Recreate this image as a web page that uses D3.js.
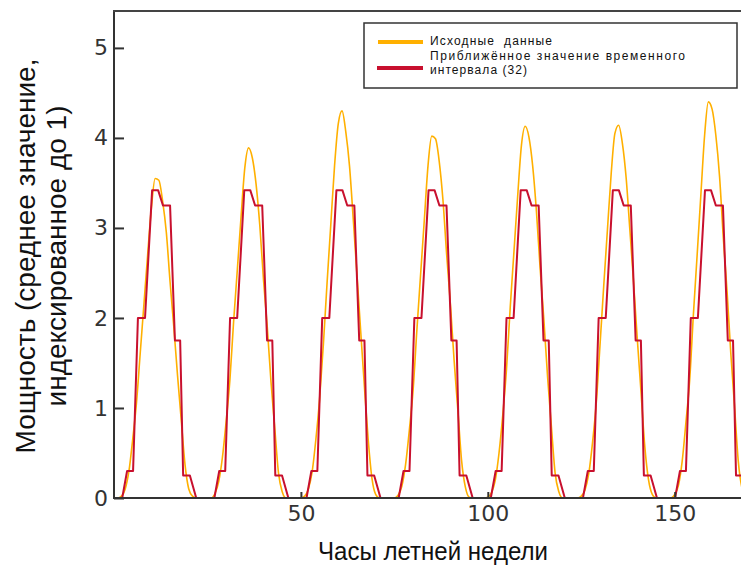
<!DOCTYPE html>
<html><head><meta charset="utf-8">
<script src="https://cdn.jsdelivr.net/npm/d3@7"></script>
<style>body{margin:0;background:#fff;} svg{display:block;}</style>
</head><body><svg id="c" width="741" height="568"></svg>
<script>
// ---- data ----
const hours = d3.range(0, 171);
const original = [
  0,0,0.02,0.1,0.3,0.65,1.05,1.6,2.15,2.7,3.22,3.55,3.53,3.3,2.95,2.4,1.9,1.36,0.86,0.37,0.1,0.02,
  0,0,0,0,0,
  0.05,0.18,0.45,0.85,1.31,1.96,2.54,3.13,3.67,3.89,3.78,3.49,3.03,2.42,1.9,1.29,0.78,0.28,0.07,
  0,0,0,0,0,
  0.02,0.1,0.29,0.65,1.1,1.7,2.39,3.04,3.69,4.16,4.3,4.07,3.69,3.1,2.48,1.85,1.23,0.65,0.22,0.04,
  0,0,0,0,0,
  0.03,0.13,0.37,0.75,1.19,1.85,2.47,3.08,3.69,4.02,3.99,3.74,3.31,2.7,2.15,1.52,0.97,0.41,0.12,0.01,
  0,0,0,0,
  0.01,0.06,0.2,0.5,0.92,1.43,2.12,2.74,3.36,3.92,4.13,4.01,3.69,3.19,2.55,1.98,1.34,0.8,0.28,0.07,
  0,0,0,0,0,
  0.02,0.09,0.27,0.61,1.05,1.69,2.35,2.98,3.6,4.05,4.14,3.94,3.56,2.98,2.39,1.76,1.17,0.57,0.2,0.04,
  0,0,0,0,0,
  0.04,0.14,0.41,0.84,1.31,2.04,2.7,3.37,4.03,4.4,4.32,4.03,3.57,2.89,2.3,1.61,1.02,0.41,0.11,0.01,
  0
];
const approxX = [
  0,2.2,3.5,5.1,6.4,8.3,10.2,11.8,13.1,15.0,16.3,17.7,18.5,20.3,22.0,
  26.85,28.15,29.75,31.05,32.95,34.85,36.45,37.75,39.65,40.95,42.35,43.15,44.95,46.65,
  51.5,52.8,54.4,55.7,57.6,59.5,61.1,62.4,64.3,65.6,67.0,67.8,69.6,71.3,
  76.15,77.45,79.05,80.35,82.25,84.15,85.75,87.05,88.95,90.25,91.65,92.45,94.25,95.95,
  100.8,102.1,103.7,105.0,106.9,108.8,110.4,111.7,113.6,114.9,116.3,117.1,118.9,120.6,
  125.45,126.75,128.35,129.65,131.55,133.45,135.05,136.35,138.25,139.55,140.95,141.75,143.55,145.25,
  150.1,151.4,153.0,154.3,156.2,158.1,159.7,161.0,162.9,164.2,165.6,166.4,168.2,169.9
];
const approxY = [
  0,0,0.3,0.3,2.0,2.0,3.42,3.42,3.25,3.25,1.75,1.75,0.25,0.25,0,
  0,0.3,0.3,2.0,2.0,3.42,3.42,3.25,3.25,1.75,1.75,0.25,0.25,0,
  0,0.3,0.3,2.0,2.0,3.42,3.42,3.25,3.25,1.75,1.75,0.25,0.25,0,
  0,0.3,0.3,2.0,2.0,3.42,3.42,3.25,3.25,1.75,1.75,0.25,0.25,0,
  0,0.3,0.3,2.0,2.0,3.42,3.42,3.25,3.25,1.75,1.75,0.25,0.25,0,
  0,0.3,0.3,2.0,2.0,3.42,3.42,3.25,3.25,1.75,1.75,0.25,0.25,0,
  0,0.3,0.3,2.0,2.0,3.42,3.42,3.25,3.25,1.75,1.75,0.25,0.25,0
];
const xTicks = [50, 100, 150];
const yTicks = [0, 1, 2, 3, 4, 5];
const legendLabels = ["Исходные  данные", "Приближённое значение временного", "интервала (32)"];
const yTitle = ["Мощность (среднее значение,", "индексированное до 1)"];
const xTitle = "Часы летней недели";

// ---- chart ----
const svg = d3.select("#c");
const L = 114, T = 11, B = 498, R = 742;
const x = d3.scaleLinear().domain([0, 168]).range([L, R]);
const y = d3.scaleLinear().domain([0, 5.41]).range([B, T]);

svg.append("defs").append("clipPath").attr("id", "clip")
  .append("rect").attr("x", L).attr("y", T).attr("width", 741 - L).attr("height", B - T);

const plot = svg.append("g").attr("clip-path", "url(#clip)");
plot.append("path")
  .datum(hours.map((h, i) => [h, original[i]]))
  .attr("fill", "none").attr("stroke", "#FFB000").attr("stroke-width", 1.6)
  .attr("d", d3.line().x(d => x(d[0])).y(d => y(d[1])).curve(d3.curveMonotoneX));
plot.append("path")
  .datum(approxX.map((v, i) => [v, approxY[i]]))
  .attr("fill", "none").attr("stroke", "#C8102E").attr("stroke-width", 2)
  .attr("stroke-linejoin", "round")
  .attr("d", d3.line().x(d => x(d[0])).y(d => y(d[1])));

// axes
const tickFont = "DejaVu Sans, sans-serif";
const gy = svg.append("g").attr("transform", `translate(${L},0)`)
  .call(d3.axisLeft(y).tickValues(yTicks).tickSize(-10).tickPadding(6).tickFormat(d3.format("d")));
const gx = svg.append("g").attr("transform", `translate(0,${B})`)
  .call(d3.axisBottom(x).tickValues(xTicks).tickSize(-6).tickPadding(7).tickFormat(d3.format("d")));
[gx, gy].forEach(g => {
  g.select(".domain").remove();
  g.selectAll(".tick line").attr("stroke", "#333").attr("stroke-width", 2);
  g.selectAll(".tick text").attr("fill", "#333").style("font-family", tickFont).style("font-size", "22px");
});

// frame
svg.append("line").attr("x1", L).attr("x2", L).attr("y1", T).attr("y2", B).attr("stroke", "#333").attr("stroke-width", 2);
svg.append("line").attr("x1", L - 1).attr("x2", 741).attr("y1", T).attr("y2", T).attr("stroke", "#444").attr("stroke-width", 2);
svg.append("line").attr("x1", L - 1).attr("x2", 741).attr("y1", B).attr("y2", B).attr("stroke", "#333").attr("stroke-width", 2);

// legend
const lg = svg.append("g");
lg.append("rect").attr("x", 364).attr("y", 23).attr("width", 373).attr("height", 65)
  .attr("fill", "#fff").attr("stroke", "#333").attr("stroke-width", 1.5);
lg.append("line").attr("x1", 378).attr("x2", 423).attr("y1", 42).attr("y2", 42).attr("stroke", "#FFB000").attr("stroke-width", 4);
lg.append("line").attr("x1", 377).attr("x2", 423).attr("y1", 68).attr("y2", 68).attr("stroke", "#C8102E").attr("stroke-width", 4);
const legY = [45, 60, 74], legW = [122, 255, 97];
legendLabels.forEach((t, i) => {
  lg.append("text").attr("x", 430).attr("y", legY[i]).text(t)
    .attr("textLength", legW[i]).attr("lengthAdjust", "spacing")
    .style("font-family", "Liberation Sans, Arial, sans-serif").style("font-size", "12px").attr("fill", "#111")
    .style("white-space", "pre");
});

// titles
const yt = svg.append("text").attr("transform", "translate(0,256) rotate(-90)")
  .attr("text-anchor", "middle").style("font-family", "Liberation Sans, Arial, sans-serif")
  .style("font-size", "28px").attr("fill", "#111");
yt.append("tspan").attr("x", 0).attr("y", 35).text(yTitle[0]);
yt.append("tspan").attr("x", 0).attr("y", 66).text(yTitle[1]);

svg.append("text").attr("x", 433).attr("y", 560).attr("text-anchor", "middle")
  .style("font-family", "Liberation Sans, Arial, sans-serif").style("font-size", "26px").attr("fill", "#111")
  .attr("textLength", 230).attr("lengthAdjust", "spacingAndGlyphs").text(xTitle);
</script></body></html>
